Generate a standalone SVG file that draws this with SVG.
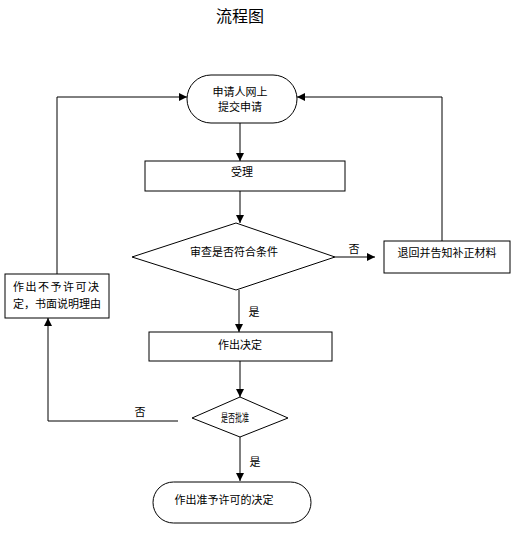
<svg xmlns="http://www.w3.org/2000/svg" width="522" height="554" viewBox="0 0 522 554">
<style>
text{font-family:"Noto Sans CJK SC","Noto Sans CJK TC",sans-serif;font-size:11px;fill:#000;text-anchor:middle}
.title{font-size:16px}
.shape{fill:#fff;stroke:#000;stroke-width:1}
.line{fill:none;stroke:#000;stroke-width:1}
</style>
<defs>
<marker id="ah" markerWidth="8" markerHeight="8" refX="8" refY="4" orient="auto" markerUnits="userSpaceOnUse">
<path d="M0,0 L8,4 L0,8 z" fill="#000"/>
</marker>
</defs>
<rect width="522" height="554" fill="#fff"/>
<text class="title" x="240" y="22">流程图</text>
<g id="connectors">
<path class="line" d="M240,123 V161" marker-end="url(#ah)"/>
<path class="line" d="M240,191 V223" marker-end="url(#ah)"/>
<path class="line" d="M335,257 H375" marker-end="url(#ah)"/>
<path class="line" d="M442,241 V97 H297" marker-end="url(#ah)"/>
<path class="line" d="M57,274 V97 H187" marker-end="url(#ah)"/>
<path class="line" d="M239,290 V332" marker-end="url(#ah)"/>
<path class="line" d="M240,361 V397" marker-end="url(#ah)"/>
<path class="line" d="M178,421 H48 V318" marker-end="url(#ah)"/>
<path class="line" d="M240,437 V481" marker-end="url(#ah)"/>
<text x="354" y="253">否</text>
<text x="254" y="316">是</text>
<text x="140" y="416">否</text>
<text x="255" y="466">是</text>
</g>
<g id="n_apply">
<rect class="shape" x="187" y="75" width="110" height="48" rx="24" ry="24"/>
<text x="240" y="96">申请人网上</text>
<text x="240" y="111">提交申请</text>
</g>
<g id="n_accept">
<rect class="shape" x="145" y="161" width="200" height="30"/>
<text x="242" y="176">受理</text>
</g>
<g id="n_review">
<polygon class="shape" points="132,257 236,223 335,257 236,290"/>
<text x="234" y="256">审查是否符合条件</text>
</g>
<g id="n_return">
<rect class="shape" x="384" y="241" width="126" height="32"/>
<text x="447" y="257">退回并告知补正材料</text>
</g>
<g id="n_reject">
<rect class="shape" x="5" y="274" width="104" height="44"/>
<text x="56" y="291" textLength="86" lengthAdjust="spacing">作出不予许可决</text>
<text x="57" y="308">定，书面说明理由</text>
</g>
<g id="n_decide">
<rect class="shape" x="149" y="332" width="183" height="29"/>
<text x="240" y="349">作出决定</text>
</g>
<g id="n_approve">
<polygon class="shape" points="192,418 240,397 288,418 240,437"/>
<text x="235" y="422" textLength="28" lengthAdjust="spacingAndGlyphs">是否批准</text>
</g>
<g id="n_grant">
<rect class="shape" x="153" y="482" width="158" height="41" rx="20.5" ry="20.5"/>
<text x="224" y="504">作出准予许可的决定</text>
</g>
</svg>
